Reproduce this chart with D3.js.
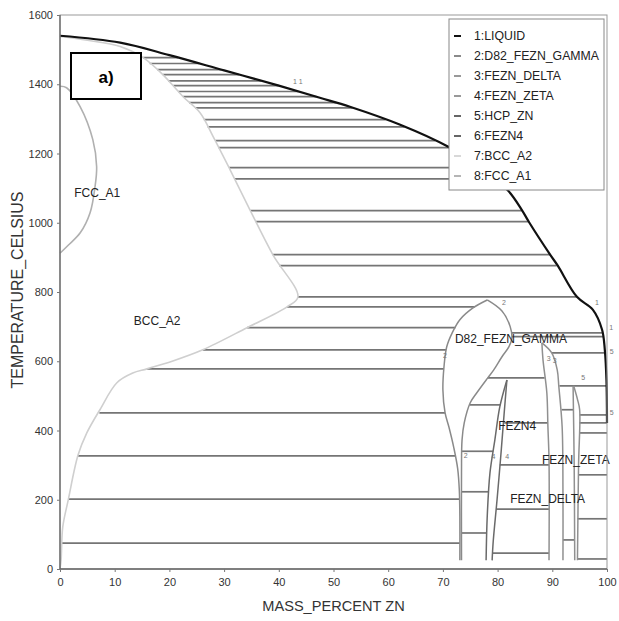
<!DOCTYPE html>
<html><head><meta charset="utf-8">
<script src="https://cdn.jsdelivr.net/npm/d3@7"></script>
<style>html,body{margin:0;padding:0;background:#fff;} svg{display:block;font-family:"Liberation Sans",Arial,sans-serif;}</style>
</head><body><svg id="c" width="619" height="621"></svg>
<script>
// ---------- data (mass % Zn, temperature °C) ----------
const xTicks = [0,10,20,30,40,50,60,70,80,90,100];
const yTicks = [0,200,400,600,800,1000,1200,1400,1600];

const liquidus = [[0,1540],[11,1520],[20,1484],[30,1440],[40,1396],[47.5,1361],[53,1335],[62.2,1283],[70.9,1220],[76.5,1163],[81.9,1093],[84.5,1035],[85.7,1003],[89.6,908],[91.0,876],[94.5,786],[97.4,749],[99.1,691],[99.6,633],[99.9,546],[100,422]];
const bccBoundary = [[0,1538],[5,1527],[11.0,1509],[15.2,1477],[18.8,1428],[22.5,1364],[25.6,1318],[28.0,1249],[31.1,1153],[34.7,1038],[38.9,908],[43.5,786],[41.5,757],[34.2,697],[26.1,633],[20.5,600],[15.9,578],[13.3,566],[10.4,538],[7.3,460],[4.9,393],[3.3,329],[1.5,199],[0.5,121],[0.2,26],[0,0]];
const fccBoundary = [[0,1394],[1.2,1390],[3.7,1335],[6.0,1240],[6.7,1162],[6.4,1104],[5.5,1029],[3.7,971],[1.5,935],[0,912]];
const gammaLeft = [[78.1,777],[75.5,754],[73.1,720],[71.7,682],[70.7,642],[70.2,584],[70.0,517],[70.4,451],[71.1,410],[72.0,350],[72.7,290],[73.0,228],[73.1,150],[73.1,25]];
const gammaRight = [[78.1,777],[80.8,745],[82.3,700],[82.6,665],[82.0,640],[80.8,613],[79.3,575],[78.2,552],[76.2,509],[75.0,480],[73.9,422],[73.5,373],[73.4,277],[73.4,25]];
const fezn4Left = [[81.7,546],[80.4,468],[79.5,373],[78.6,277],[78.1,150],[77.9,25]];
const fezn4Right = [[81.7,546],[81.2,450],[80.6,330],[79.9,200],[79.2,80],[79.0,25]];
const deltaLeft = [[88.1,653],[88.3,604],[89.0,509],[89.2,410],[89.4,315],[89.4,25]];
const deltaRight = [[88.1,653],[89.9,624],[90.9,575],[91.2,526],[91.8,410],[91.95,220],[91.95,25]];
const zetaLeft = [[93.8,529],[94.0,300],[94.1,25]];
const zetaRight = [[93.9,529],[94.6,490],[95.0,460],[94.8,300],[94.6,25]];

// tie lines: [temperature, x from, x to]
const tieLines = [
 [1477,15.2,21.6],[1460,16.4,25.5],[1442,17.8,29.5],[1428,18.8,32.7],[1410,19.8,36.8],
 [1396,20.7,40.0],[1379,21.6,43.6],[1364,22.5,46.9],[1347,23.6,50.5],[1332,24.7,53.5],
 [1298,26.3,59.5],[1277,27.0,63.0],[1237,28.4,68.6],[1217,29.0,71.2],[1159,30.9,76.8],
 [1127,31.9,79.3],[1035,34.8,84.4],[1003,35.8,85.8],[908,38.9,89.6],[876,40.1,90.8],
 [786,43.5,94.5],
 [757,41.5,75.8],[697,34.2,72.3],[633,26.1,70.6],[578,15.9,70.2],[451,7.2,70.4],
 [327,3.3,72.3],[202,1.5,73.0],[75,0.25,73.1],
 [682,82.5,99.2],[671,82.6,99.3],[624,89.9,99.5],[529,91.3,99.9],
 [552,78.2,88.6],
 [474,74.9,80.5],[340,73.5,79.2],[223,73.4,78.4],[104,73.4,78.0],
 [422,81.2,89.2],[301,80.4,89.4],[173,79.7,89.4],[46,79.1,89.4],
 [460,91.7,93.9],[84,91.95,94.1],
 [445,95.0,100],[422,94.95,100],[393,94.9,100],[272,94.7,100],[145,94.6,100],[29,94.6,100]
];

const regionLabels = [["FCC_A1",2.6,1075],["BCC_A2",13.5,705],["D82_FEZN_GAMMA",72.2,653],["FEZN4",80.1,402],["FEZN_ZETA",88.1,303],["FEZN_DELTA",82.3,191]];
const curveTags = [["1 1",42.6,1400],["1",97.8,762],["1",100.4,690],["5",100.5,620],["5",100.5,445],["2",80.8,762],["2",70.0,610],["2",73.8,322],["4",78.9,318],["4",81.4,318],["3",89.0,600],["3",90.1,594],["5",95.3,545]];

const legendLabels = ["1:LIQUID","2:D82_FEZN_GAMMA","3:FEZN_DELTA","4:FEZN_ZETA","5:HCP_ZN","6:FEZN4","7:BCC_A2","8:FCC_A1"];
const legendColors = ["#111","#8a8a8a","#999","#999","#666","#666","#d8d8d8","#b5b5b5"];

// ---------- drawing ----------
const svg = d3.select("#c");
const x = d3.scaleLinear().domain([0,100]).range([60,607]);
const y = d3.scaleLinear().domain([0,1600]).range([569,15]);
const line = d3.line().x(d=>x(d[0])).y(d=>y(d[1])).curve(d3.curveCatmullRom.alpha(0.5));

svg.append("rect").attr("width",619).attr("height",621).attr("fill","#fff");

// tie lines
svg.append("g").selectAll("line").data(tieLines).join("line")
  .attr("x1",d=>x(d[1])).attr("x2",d=>x(d[2]))
  .attr("y1",d=>y(d[0])).attr("y2",d=>y(d[0]))
  .attr("stroke","#757575").attr("stroke-width",1.7);

// phase boundaries
const bounds = [
  [bccBoundary,"#cfcfcf",1.6],
  [fccBoundary,"#b0b0b0",1.6],
  [gammaLeft,"#8a8a8a",1.5],[gammaRight,"#8a8a8a",1.5],
  [fezn4Left,"#6a6a6a",1.5],[fezn4Right,"#6a6a6a",1.5],
  [deltaLeft,"#909090",1.5],[deltaRight,"#909090",1.5],
  [zetaLeft,"#909090",1.5],[zetaRight,"#909090",1.5]
];
svg.append("g").selectAll("path").data(bounds).join("path")
  .attr("d",d=>line(d[0])).attr("fill","none")
  .attr("stroke",d=>d[1]).attr("stroke-width",d=>d[2]);

svg.append("path").attr("d",line(liquidus)).attr("fill","none")
  .attr("stroke","#111").attr("stroke-width",2.2);

// curve tags
svg.append("g").selectAll("text").data(curveTags).join("text")
  .attr("x",d=>x(d[1])).attr("y",d=>y(d[2]))
  .attr("font-size",7).attr("fill","#777").text(d=>d[0]);

// region labels
svg.append("g").selectAll("text").data(regionLabels).join("text")
  .attr("x",d=>x(d[1])).attr("y",d=>y(d[2]))
  .attr("font-size",12).attr("fill","#222").text(d=>d[0]);

// frame
svg.append("rect").attr("x",x(0)).attr("y",y(1600)).attr("width",x(100)-x(0)).attr("height",y(0)-y(1600))
  .attr("fill","none").attr("stroke","#999").attr("stroke-width",1);
svg.append("line").attr("x1",x(0)).attr("x2",x(0)).attr("y1",y(0)).attr("y2",y(1600)).attr("stroke","#666").attr("stroke-width",1.3);
svg.append("line").attr("x1",x(0)).attr("x2",x(100)).attr("y1",y(0)).attr("y2",y(0)).attr("stroke","#666").attr("stroke-width",1.3);

// axes
const xa = svg.append("g").attr("transform",`translate(0,${y(0)})`)
  .call(d3.axisBottom(x).tickValues(xTicks).tickSize(3).tickPadding(6).tickFormat(d3.format("d")));
const ya = svg.append("g").attr("transform",`translate(${x(0)},0)`)
  .call(d3.axisLeft(y).tickValues(yTicks).tickSize(3).tickPadding(4).tickFormat(d3.format("d")));
[xa,ya].forEach(a=>{
  a.select(".domain").remove();
  a.selectAll(".tick line").attr("stroke","#777");
  a.selectAll("text").attr("font-size",11).attr("fill","#333").attr("font-family",'"Liberation Sans",Arial,sans-serif');
});

// axis titles
svg.append("text").attr("x",(x(0)+x(100))/2 - 0).attr("y",611).attr("text-anchor","middle")
  .attr("font-size",14.6).attr("fill","#333").text("MASS_PERCENT ZN");
svg.append("text").attr("transform",`translate(23,${(y(0)+y(1600))/2 - 2}) rotate(-90)`).attr("text-anchor","middle")
  .attr("font-size",16).attr("fill","#333").text("TEMPERATURE_CELSIUS");

// legend
const lg = svg.append("g");
lg.append("rect").attr("x",449).attr("y",19).attr("width",155).attr("height",171)
  .attr("fill","#fff").attr("stroke","#888").attr("stroke-width",1);
const items = lg.selectAll("g.it").data(legendLabels).join("g").attr("class","it")
  .attr("transform",(d,i)=>`translate(0,${36+i*20})`);
items.append("line").attr("x1",454).attr("x2",461).attr("y1",0).attr("y2",0)
  .attr("stroke",(d,i)=>legendColors[i]).attr("stroke-width",2);
items.append("text").attr("x",474).attr("y",4.3).attr("font-size",12.3).attr("fill","#222").text(d=>d);

// panel tag
svg.append("rect").attr("x",71).attr("y",53).attr("width",70).attr("height",46)
  .attr("fill","#fff").attr("stroke","#000").attr("stroke-width",2);
svg.append("text").attr("x",106).attr("y",83).attr("text-anchor","middle")
  .attr("font-size",17).attr("font-weight","bold").attr("fill","#000").text("a)");
</script></body></html>
